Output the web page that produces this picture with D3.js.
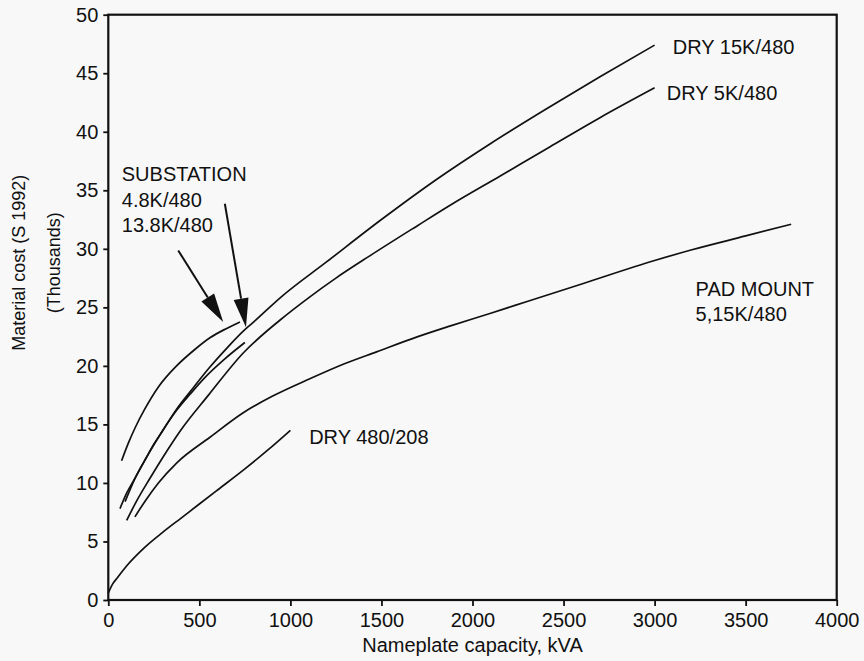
<!DOCTYPE html>
<html>
<head>
<meta charset="utf-8">
<script src="https://cdn.jsdelivr.net/npm/d3@7"></script>
<style>
    body { margin: 0; background: #f8f8f8; }
    #chart-area { width: 864px; height: 661px; }
    text { font-family: "Liberation Sans", Arial, sans-serif; fill: #111; }
</style>
</head>
<body>
<div id="chart-area"></div>
<script>
// capacity (kVA) and material cost (thousands of 1992 dollars)
const dry480_208_kva  = [0, 25, 50, 100, 200, 300, 400, 500, 600, 750, 875, 1000];
const dry480_208_cost = [0.6, 1.4, 1.9, 2.9, 4.5, 5.8, 7.0, 8.2, 9.4, 11.2, 12.8, 14.5];

const sub48_kva  = [73, 110, 150, 200, 275, 375, 475, 558, 650, 723];
const sub48_cost = [11.9, 13.4, 14.8, 16.3, 18.2, 20.0, 21.4, 22.4, 23.2, 23.75];

const sub138_kva  = [92, 150, 210, 300, 375, 450, 530, 640, 750];
const sub138_cost = [8.4, 10.5, 12.2, 14.5, 16.2, 17.6, 19.0, 20.6, 22.0];

const dry15k_kva  = [64, 100, 150, 200, 250, 300, 375, 450, 558, 650, 750, 780, 950, 1200, 1500, 1800, 2100, 2400, 2700, 3000];
const dry15k_cost = [7.8, 9.1, 10.5, 11.9, 13.3, 14.5, 16.3, 17.8, 19.9, 21.5, 23.1, 23.5, 25.9, 28.9, 32.5, 35.9, 39.0, 41.9, 44.7, 47.4];

const dry5k_kva  = [101, 150, 229, 300, 393, 550, 741, 942, 1107, 1250, 1436, 1700, 1875, 2150, 2424, 2700, 3000];
const dry5k_cost = [6.8, 8.3, 10.4, 12.2, 14.4, 17.5, 21.1, 23.9, 25.9, 27.5, 29.4, 32.0, 33.7, 36.2, 38.7, 41.2, 43.75];

const pad_kva  = [146, 200, 275, 375, 558, 741, 900, 1107, 1300, 1473, 1700, 1875, 2100, 2300, 2600, 3000, 3200, 3500, 3750];
const pad_cost = [7.1, 8.4, 10.0, 11.7, 13.9, 16.0, 17.4, 18.9, 20.2, 21.2, 22.5, 23.4, 24.5, 25.5, 27.0, 29.0, 29.9, 31.1, 32.1];

const xTicks = [0, 500, 1000, 1500, 2000, 2500, 3000, 3500, 4000];
const yTicks = [0, 5, 10, 15, 20, 25, 30, 35, 40, 45, 50];

const labelText = ["DRY 15K/480", "DRY 5K/480", "PAD MOUNT", "5,15K/480", "DRY 480/208", "SUBSTATION", "4.8K/480", "13.8K/480"];
const labelKva  = [3100, 3067, 3225, 3225, 1103, 74, 74, 74];
const labelCost = [46.6, 42.7, 26.0, 23.85, 13.3, 35.75, 33.56, 31.4];

// arrows from the SUBSTATION note to the curve ends
const arrowFrom = [[384, 29.86], [640, 33.85]];
const arrowTo   = [[631, 23.75], [756, 23.3]];

class CostChart {
    constructor(_parentElement) {
        this.parentElement = _parentElement;
        this.initVis();
    }

    initVis() {
        let vis = this;

        vis.margin = { top: 14.7, right: 27.3, bottom: 61, left: 108.3 };
        vis.width = 864 - vis.margin.left - vis.margin.right;
        vis.height = 661 - vis.margin.top - vis.margin.bottom;

        vis.svg = d3.select("#" + vis.parentElement)
            .append("svg")
            .attr("width", 864)
            .attr("height", 661)
            .append("g")
            .attr("transform", "translate(" + vis.margin.left + "," + vis.margin.top + ")");

        vis.x = d3.scaleLinear().domain([0, 4000]).range([0, vis.width]);
        vis.y = d3.scaleLinear().domain([0, 50]).range([vis.height, 0]);

        vis.wrangleData();
    }

    wrangleData() {
        let vis = this;
        let zip = (xs, ys) => xs.map((d, i) => ({ kva: d, cost: ys[i] }));

        vis.series = [
            zip(dry480_208_kva, dry480_208_cost),
            zip(sub48_kva, sub48_cost),
            zip(sub138_kva, sub138_cost),
            zip(dry15k_kva, dry15k_cost),
            zip(dry5k_kva, dry5k_cost),
            zip(pad_kva, pad_cost)
        ];
        vis.labels = labelText.map((t, i) => ({ text: t, kva: labelKva[i], cost: labelCost[i] }));

        vis.updateVis();
    }

    updateVis() {
        let vis = this;

        // axes
        let xAxis = d3.axisBottom(vis.x).tickValues(xTicks).tickFormat(d3.format("d"))
            .tickSize(6).tickSizeOuter(0).tickPadding(7);
        let yAxis = d3.axisLeft(vis.y).tickValues(yTicks).tickFormat(d3.format("d"))
            .tickSize(5).tickSizeOuter(0).tickPadding(5);

        let gx = vis.svg.append("g")
            .attr("transform", "translate(0," + vis.height + ")")
            .call(xAxis);
        let gy = vis.svg.append("g").call(yAxis);

        [gx, gy].forEach(g => {
            g.select(".domain").remove();
            g.selectAll(".tick line").attr("stroke", "#111").attr("stroke-width", 1.8);
            g.selectAll(".tick text")
                .style("font-family", "'Liberation Sans', Arial, sans-serif")
                .style("font-size", "20px")
                .attr("fill", "#111");
        });

        // frame
        vis.svg.append("rect")
            .attr("width", vis.width)
            .attr("height", vis.height)
            .attr("fill", "none")
            .attr("stroke", "#111")
            .attr("stroke-width", 2.2);

        // curves
        let line = d3.line()
            .x(d => vis.x(d.kva))
            .y(d => vis.y(d.cost))
            .curve(d3.curveMonotoneX);

        vis.svg.selectAll(".curve")
            .data(vis.series)
            .enter()
            .append("path")
            .attr("class", "curve")
            .attr("d", line)
            .attr("fill", "none")
            .attr("stroke", "#111")
            .attr("stroke-width", 1.7);

        // labels
        vis.svg.selectAll(".note")
            .data(vis.labels)
            .enter()
            .append("text")
            .attr("class", "note")
            .attr("x", d => vis.x(d.kva))
            .attr("y", d => vis.y(d.cost))
            .style("font-size", "20px")
            .text(d => d.text);

        // arrows
        arrowFrom.forEach((f, i) => {
            let x0 = vis.x(f[0]), y0 = vis.y(f[1]);
            let x1 = vis.x(arrowTo[i][0]), y1 = vis.y(arrowTo[i][1]);
            let len = Math.hypot(x1 - x0, y1 - y0);
            let ux = (x1 - x0) / len, uy = (y1 - y0) / len;
            let head = 29, half = 7.5;
            let bx = x1 - ux * head, by = y1 - uy * head;

            vis.svg.append("line")
                .attr("x1", x0).attr("y1", y0)
                .attr("x2", bx).attr("y2", by)
                .attr("stroke", "#111")
                .attr("stroke-width", 2);

            vis.svg.append("path")
                .attr("d", "M" + x1 + "," + y1 +
                    "L" + (bx - uy * half) + "," + (by + ux * half) +
                    "L" + (bx + uy * half) + "," + (by - ux * half) + "Z")
                .attr("fill", "#111");
        });

        // axis titles
        vis.svg.append("text")
            .attr("x", vis.width / 2)
            .attr("y", vis.height + 52)
            .attr("text-anchor", "middle")
            .style("font-size", "20px")
            .text("Nameplate capacity, kVA");

        let yTitle = vis.svg.append("g")
            .attr("transform", "translate(" + (-vis.margin.left) + ",0)");
        yTitle.append("text")
            .attr("transform", "translate(25,248) rotate(-90)")
            .attr("text-anchor", "middle")
            .style("font-size", "18px")
            .text("Material cost (S 1992)");
        yTitle.append("text")
            .attr("transform", "translate(60,248) rotate(-90)")
            .attr("text-anchor", "middle")
            .style("font-size", "18px")
            .text("(Thousands)");
    }
}

new CostChart("chart-area");
</script>
</body>
</html>
